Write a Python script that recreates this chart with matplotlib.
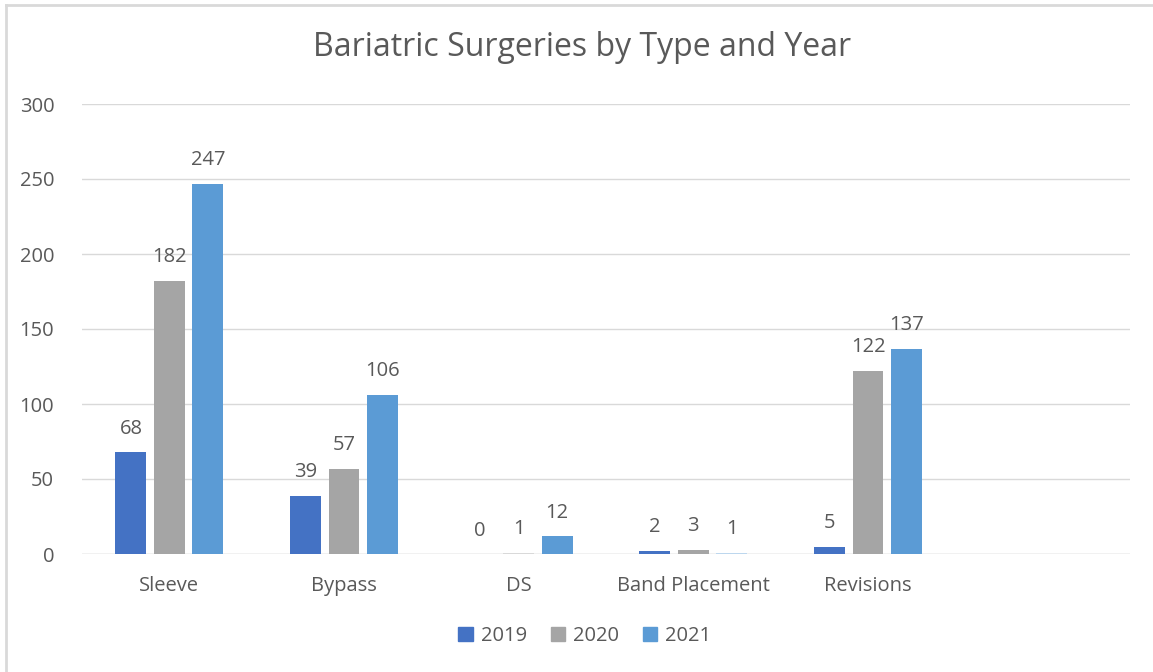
import numpy as np
import matplotlib.pyplot as plt
from matplotlib.lines import Line2D
from matplotlib.patches import Patch

categories = ["Sleeve", "Bypass", "DS", "Band Placement", "Revisions", ""]
years = ["2019", "2020", "2021"]
vals_2019 = [68, 39, 0, 2, 5, None]
vals_2020 = [182, 57, 1, 3, 122, None]
vals_2021 = [247, 106, 12, 1, 137, None]

c19, c20, c21 = "#4472c4", "#a5a5a5", "#5b9bd5"
# a couple of points are formatted lighter in the original
colors = {
    "2019": [c19] * 6,
    "2020": [c20, c20, "#d9d9d9", c20, c20, c20],
    "2021": [c21, c21, c21, "#bdd7ee", c21, c21],
}
txt = "#595959"
plt.rcParams['font.family'] = ['Open Sans', 'DejaVu Sans']

fig = plt.figure(figsize=(11.53, 6.72), dpi=100)
ax = fig.add_axes([82 / 1153, 1 - 554 / 672, (1130 - 82) / 1153, 450 / 672])

x = np.arange(len(categories))
w = 0.177
step = 0.22
for k, (yr, vals) in enumerate(zip(years, [vals_2019, vals_2020, vals_2021])):
    xs = [xi + (k - 1) * step for xi, v in zip(x, vals) if v is not None]
    vs = [v for v in vals if v is not None]
    cs = [c for c, v in zip(colors[yr], vals) if v is not None]
    ax.bar(xs, vs, width=w, color=cs, zorder=3)
    for xi, v in zip(xs, vs):
        ax.text(xi, v + 9, str(v), ha='center', va='bottom', fontsize=14.5, color=txt)

ax.set_xlim(-0.5, 5.5)
ax.set_ylim(0, 300)
ax.set_yticks(range(0, 301, 50))
ax.set_xticks(x)
ax.set_xticklabels(categories)
ax.tick_params(axis='both', length=0, labelsize=14.5, colors=txt)
ax.tick_params(axis='y', pad=20)
ax.tick_params(axis='x', pad=16)
ax.grid(axis='y', color="#d9d9d9", lw=1, zorder=0)
for s in ax.spines.values():
    s.set_visible(False)
ax.axhline(0, color="#d9d9d9", lw=1, zorder=2)

fig.text(582 / 1153, 1 - 48 / 672, "Bariatric Surgeries by Type and Year",
         ha='center', va='center', fontsize=23, color=txt)

handles = [Patch(color=c) for c in (c19, c20, c21)]
fig.legend(handles, years, loc='center', bbox_to_anchor=(585 / 1153, 1 - 636 / 672),
           ncol=3, frameon=False, fontsize=14.5, handlelength=0.7, handleheight=0.7,
           columnspacing=1.2, handletextpad=0.4, labelcolor=txt)

# chart frame (top and left edges visible)
fig.add_artist(Line2D([6 / 1153, 6 / 1153], [0, 1 - 5 / 672], transform=fig.transFigure,
                      color="#d9d9d9", lw=2))
fig.add_artist(Line2D([6 / 1153, 1], [1 - 5 / 672, 1 - 5 / 672], transform=fig.transFigure,
                      color="#d9d9d9", lw=2))

fig.savefig("out.png", dpi=100)
